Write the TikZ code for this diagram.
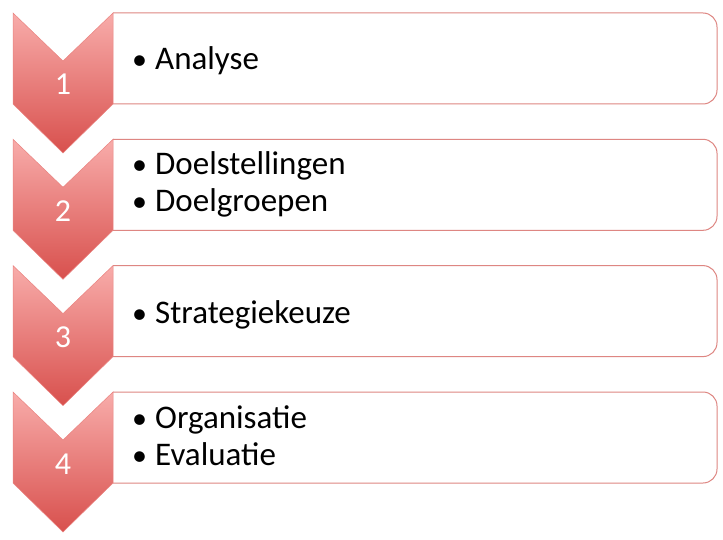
\documentclass[tikz,border=0pt]{standalone}
\usepackage{fontspec}
\setmainfont{Carlito}
\usetikzlibrary{calc}
\definecolor{chevtop}{RGB}{248,172,170}
\definecolor{chevbot}{RGB}{216,80,77}
\definecolor{boxline}{RGB}{222,134,130}
\def\chevron(#1){\shade[chevron] (13,#1) -- (63,#1+48) -- (113,#1) -- (113,#1+91) -- (63,#1+140) -- (13,#1+91) -- cycle;}
\def\listbox(#1){\draw[listbox] (113,#1) [rounded corners=14pt] -- (717,#1) -- (717,#1+91) -- (113,#1+91);}
\def\itemdot{\makebox[23pt][l]{\fontsize{30}{37}\selectfont\textbullet}}
\tikzset{
  chevron/.style={top color=chevtop, bottom color=chevbot, draw=chevbot!45!chevtop, line width=0.5pt},
  listbox/.style={draw=boxline, fill=white, line width=1pt},
  stepnum/.style={text=white, inner sep=0pt, anchor=base, font=\fontsize{32}{37}\selectfont},
  steptext/.style={text=black, inner sep=0pt, anchor=base west, font=\fontsize{33}{37}\selectfont},
}

\begin{document}
\begin{tikzpicture}[x=1pt,y=-1pt]
			\useasboundingbox[fill=white] (0,0) rectangle (723,540);
			
			%%%%% BOXES %%%%%
			\listbox(13)
			\listbox(139.3)
			\listbox(265.6)
			\listbox(392)
			
			%%%%% CHEVRONS %%%%%
			\chevron(13)
			\chevron(139.3)
			\chevron(265.6)
			\chevron(392)
			
			%%%%% NUMBERS %%%%%
			\node[stepnum] (num1) at (63,95) {1};
			\node[stepnum] (num2) at (63,221.3) {2};
			\node[stepnum] (num3) at (63,347.6) {3};
			\node[stepnum] (num4) at (63,474) {4};
			
			%%%%% TEXTS %%%%%
			\node[steptext] (analyse) at (132,70) {\itemdot Analyse};
			\node[steptext] (doelstellingen) at (132,175) {\itemdot Doelstellingen};
			\node[steptext] (doelgroepen) at (132,212) {\itemdot Doelgroepen};
			\node[steptext] (strategie) at (132,323) {\itemdot Strategiekeuze};
			\node[steptext] (organisatie) at (132,428) {\itemdot Organisatie};
			\node[steptext] (evaluatie) at (132,465) {\itemdot Evaluatie};
		\end{tikzpicture}
\end{document}
